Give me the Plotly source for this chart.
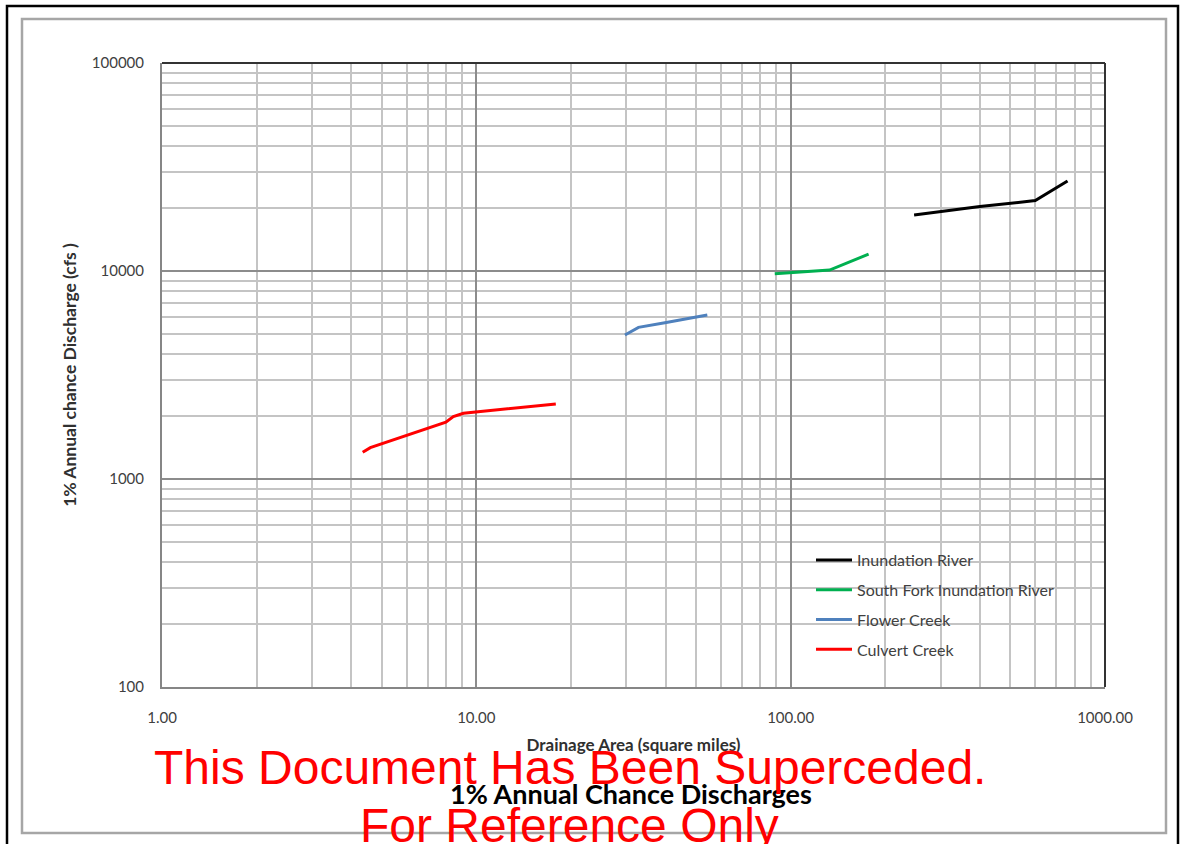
import plotly.graph_objects as go

# Drainage area (sq mi) vs 1% annual chance discharge (cfs) along each stream
inundation_area = [247, 400, 600, 760]
inundation_q = [18600, 20400, 21800, 27100]

south_fork_area = [89, 100, 133, 177]
south_fork_q = [9700, 9820, 10100, 12050]

flower_area = [29.7, 32.8, 39.8, 54.3]
flower_q = [4920, 5360, 5640, 6140]

culvert_area = [4.35, 4.6, 8.0, 8.45, 9.1, 17.9]
culvert_q = [1345, 1415, 1875, 1995, 2070, 2295]

series = [
    ("Inundation River", inundation_area, inundation_q, "#000000"),
    ("South Fork Inundation River", south_fork_area, south_fork_q, "#00B050"),
    ("Flower Creek", flower_area, flower_q, "#4F81BD"),
    ("Culvert Creek", culvert_area, culvert_q, "#FF0000"),
]

x_tickvals = [1, 10, 100, 1000]
x_ticktext = ["1.00", "10.00", "100.00", "1000.00"]
y_tickvals = [100, 1000, 10000, 100000]
y_ticktext = ["100", "1000", "10000", "100000"]

W, H = 1182, 844
L, R, T, B = 162, 1105, 63, 687


def px(x):
    return (x - L) / (R - L)


def py(y):
    return (B - y) / (B - T)


fig = go.Figure()
for i, (name, xs, ys, color) in enumerate(series):
    fig.add_trace(go.Scatter(
        x=xs, y=ys, mode="lines", name=name, legendgroup=str(i),
        line=dict(color=color, width=3),
    ))

label_font = dict(family="Lato", size=15, color="#404040")

fig.update_xaxes(
    type="log", range=[0, 3], tickvals=x_tickvals, ticktext=x_ticktext,
    showline=True, linecolor="#868686", linewidth=2,
    showgrid=True, gridcolor="#8C8C8C", gridwidth=2,
    minor=dict(dtick="D1", showgrid=True, gridcolor="#C4C4C4", gridwidth=1.5),
    ticks="", ticklabelstandoff=16, tickfont=label_font, zeroline=False,
    title=dict(text="Drainage Area (square miles)",
               font=dict(family="Lato", size=17, color="#303030", weight="bold"),
               standoff=14),
)
fig.update_yaxes(
    type="log", range=[2, 5], tickvals=y_tickvals, ticktext=y_ticktext,
    showline=True, linecolor="#868686", linewidth=2,
    showgrid=True, gridcolor="#8C8C8C", gridwidth=2,
    minor=dict(dtick="D1", showgrid=True, gridcolor="#C4C4C4", gridwidth=1.5),
    ticks="", ticklabelstandoff=13, tickfont=label_font, zeroline=False,
    title=dict(text="1% Annual chance Discharge (cfs )",
               font=dict(family="Lato", size=17.5, color="#303030", weight="bold"),
               standoff=11),
)

shapes = [
    # dark top and right edges of the plot frame
    dict(type="line", xref="paper", yref="paper", x0=0, x1=1, y0=1, y1=1,
         line=dict(color="#333333", width=2)),
    dict(type="line", xref="paper", yref="paper", x0=1, x1=1, y0=0, y1=1,
         line=dict(color="#333333", width=2)),
    # chart area border
    dict(type="rect", xref="paper", yref="paper",
         x0=px(22), x1=px(1166), y0=py(833), y1=py(19),
         line=dict(color="#A6A6A6", width=2.5)),
    # page border
    dict(type="rect", xref="paper", yref="paper",
         x0=px(7), x1=px(1178), y0=py(870), y1=py(6),
         line=dict(color="#000000", width=2.5)),
]

annotations = [
    dict(text="This Document Has Been Superceded.", xref="paper", yref="paper",
         x=px(570), y=py(767), showarrow=False, xanchor="center", yanchor="middle",
         font=dict(family="Liberation Sans", size=48, color="#FF0000")),
    dict(text="For Reference Only", xref="paper", yref="paper",
         x=px(569), y=py(825), showarrow=False, xanchor="center", yanchor="middle",
         font=dict(family="Liberation Sans", size=48, color="#FF0000")),
]

fig.update_layout(
    width=W, height=H,
    margin=dict(l=L, r=W - R, t=T, b=H - B),
    paper_bgcolor="white", plot_bgcolor="white",
    title=dict(text="<b>1% Annual Chance Discharges</b>",
               x=631 / W, xanchor="center", y=1 - 795 / H, yanchor="middle",
               font=dict(family="Lato", size=27, color="#000000")),
    showlegend=True,
    legend=dict(x=px(811), y=py(543), xanchor="left", yanchor="top",
                bgcolor="rgba(0,0,0,0)", borderwidth=0, itemwidth=36,
                tracegroupgap=6,
                font=dict(family="Lato", size=16, color="#404040")),
    shapes=shapes, annotations=annotations,
)

fig.write_html("out.html")
